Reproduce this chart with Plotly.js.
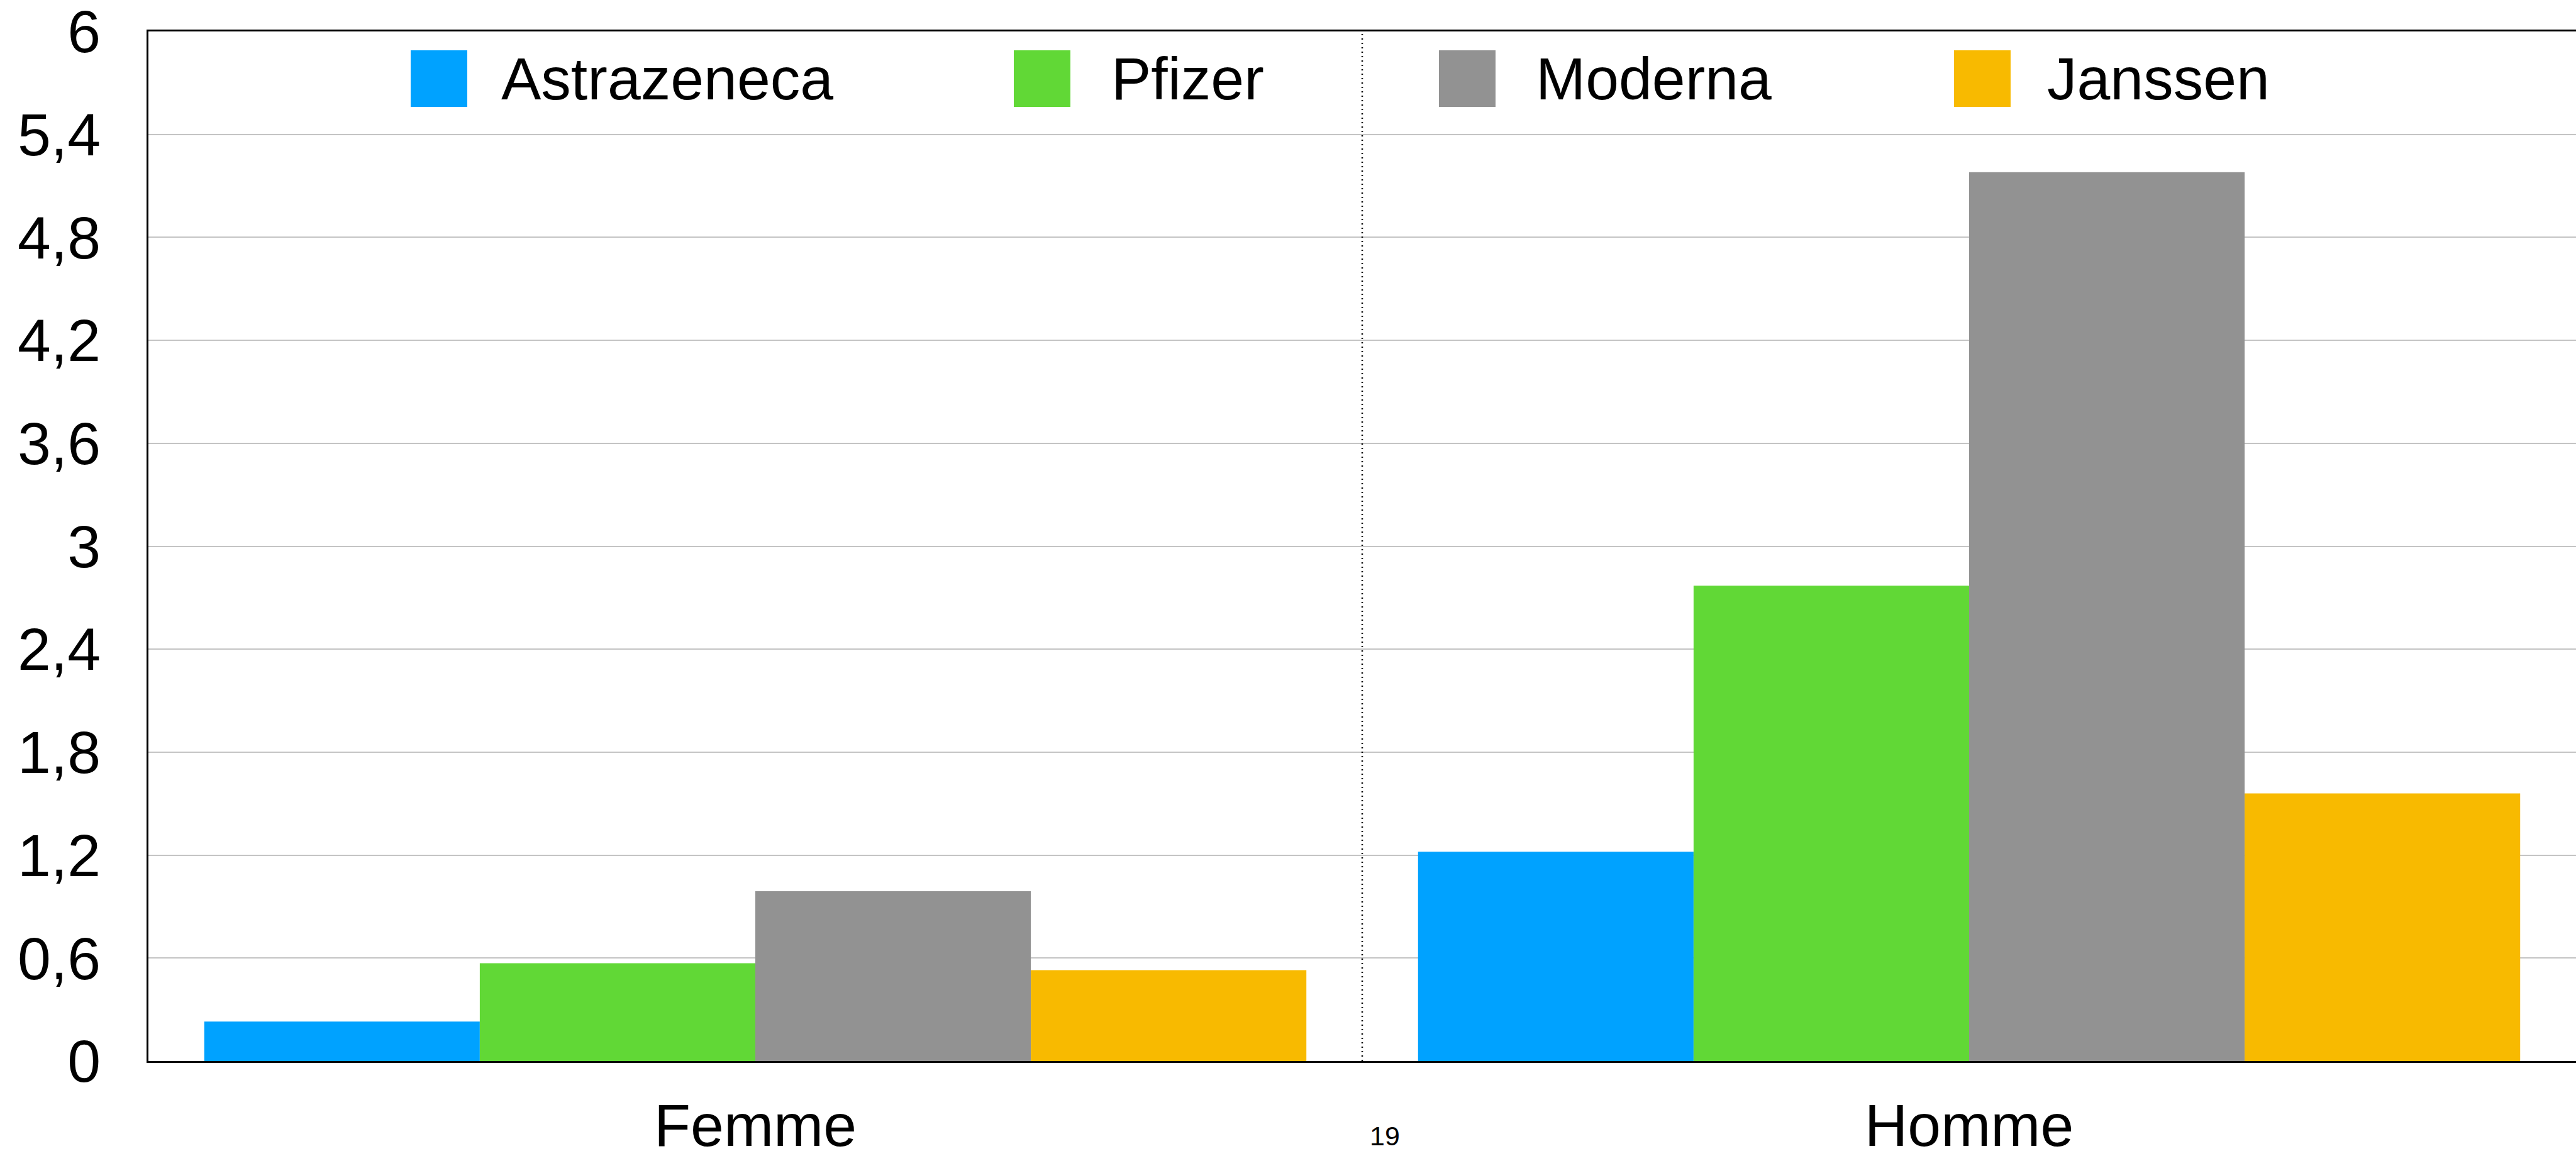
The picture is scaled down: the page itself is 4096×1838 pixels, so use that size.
<!DOCTYPE html>
<html>
<head>
<meta charset="utf-8">
<script src="https://cdn.plot.ly/plotly-3.0.1.min.js"></script>
<style>
  html, body { margin: 0; padding: 0; background: #ffffff; }
  #chart { width: 4096px; height: 1838px; }
</style>
</head>
<body>
<div id="chart"></div>
<script>
// ---- data ----
const categories = ['Femme', 'Homme'];
const seriesNames = ['Astrazeneca', 'Pfizer', 'Moderna', 'Janssen'];
const astrazeneca = [0.23, 1.22];
const pfizer = [0.57, 2.77];
const moderna = [0.99, 5.18];
const janssen = [0.53, 1.56];
const yTickVals = [0, 0.6, 1.2, 1.8, 2.4, 3, 3.6, 4.2, 4.8, 5.4, 6];
const yTickLabels = ['0', '0,6', '1,2', '1,8', '2,4', '3', '3,6', '4,2', '4,8', '5,4', '6'];
const pageLabel = '19';

// ---- styling ----
const colors = ['#00A2FF', '#61D836', '#929292', '#F8BA00'];
const FONT = '"Liberation Sans", Arial, Helvetica, sans-serif';
const W = 4096, H = 1838;
const M = { l: 236, r: 0, t: 50, b: 151 };
const plotW = W - M.l - M.r, plotH = H - M.t - M.b;
const px = x => (x - M.l) / plotW;          // pixel -> paper x
const py = y => (H - M.b - y) / plotH;      // pixel -> paper y

const seriesValues = [astrazeneca, pfizer, moderna, janssen];
const traces = seriesValues.map((vals, i) => ({
  type: 'bar',
  name: seriesNames[i],
  x: categories,
  y: vals,
  marker: { color: colors[i], line: { width: 0 } },
  hoverinfo: 'skip'
}));

// manual legend (large square swatches)
const legendSwatchX = [653, 1612, 2288, 3107];
const legendTextX = [796, 1766, 2441, 3254];
const swTop = 80, swBottom = 170, legendMid = 125;

const shapes = [
  {
    type: 'line', xref: 'x', yref: 'paper',
    x0: 0.5, x1: 0.5, y0: 0, y1: 1,
    line: { color: '#000000', width: 2.5, dash: '2px,5px' },
    layer: 'above'
  }
];
const annotations = [];
seriesNames.forEach((n, i) => {
  shapes.push({
    type: 'rect', xref: 'paper', yref: 'paper',
    x0: px(legendSwatchX[i]), x1: px(legendSwatchX[i] + 90),
    y0: py(swBottom), y1: py(swTop),
    fillcolor: colors[i], line: { width: 0 }, layer: 'above'
  });
  annotations.push({
    xref: 'paper', yref: 'paper',
    x: px(legendTextX[i]), y: py(legendMid),
    xanchor: 'left', yanchor: 'middle',
    text: n, showarrow: false,
    font: { family: FONT, size: 95, color: '#000000' },
    borderpad: 0
  });
});
annotations.push({
  xref: 'paper', yref: 'paper',
  x: px(2202), y: py(1806),
  xanchor: 'center', yanchor: 'middle',
  text: pageLabel, showarrow: false,
  font: { family: FONT, size: 43, color: '#000000' },
  borderpad: 0
});

const layout = {
  width: W, height: H,
  margin: M,
  paper_bgcolor: '#ffffff',
  plot_bgcolor: '#ffffff',
  font: { family: FONT, size: 95, color: '#000000' },
  showlegend: false,
  barmode: 'group',
  bargap: 0.092,
  bargroupgap: 0,
  xaxis: {
    type: 'category',
    categoryorder: 'array',
    categoryarray: categories,
    range: [-0.5, 1.5],
    showgrid: false,
    zeroline: false,
    showline: true,
    linecolor: '#000000',
    linewidth: 3,
    mirror: true,
    ticks: '',
    ticklabelstandoff: 18,
    ticklabeloverflow: 'allow',
    tickfont: { family: FONT, size: 95, color: '#000000' }
  },
  yaxis: {
    range: [0, 6],
    tickmode: 'array',
    tickvals: yTickVals,
    ticktext: yTickLabels,
    showgrid: true,
    gridcolor: '#c4c4c4',
    gridwidth: 2,
    zeroline: false,
    showline: true,
    linecolor: '#000000',
    linewidth: 3,
    ticks: '',
    ticklabelstandoff: 54,
    ticklabeloverflow: 'allow',
    tickfont: { family: FONT, size: 95, color: '#000000' }
  },
  shapes: shapes,
  annotations: annotations
};

Plotly.newPlot('chart', traces, layout, { staticPlot: true, displayModeBar: false });
</script>
</body>
</html>
